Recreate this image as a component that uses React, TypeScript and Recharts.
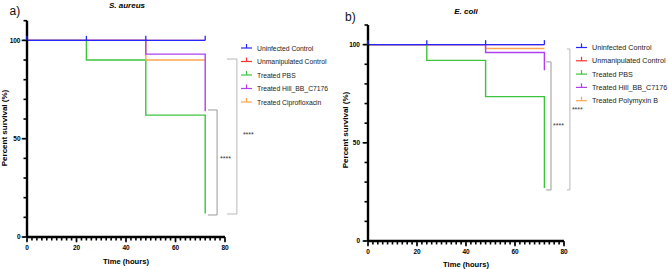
import React from "react";
import { LineChart, Line, XAxis, YAxis, ReferenceLine, ReferenceDot } from "recharts";

const hours = [0, 24, 48, 72];

// S. aureus survival (%)
const aureusUninfected = [100, 100, 100, 100];
const aureusUnmanipulated = [100, 100, 100, 100];
const aureusPBS = [100, 90, 62, 12];
const aureusHill = [100, 100, 93, 64];
const aureusCipro = [100, 100, 90, 90];

// E. coli survival (%)
const coliUninfected = [100, 100, 100, 100];
const coliUnmanipulated = [100, 100, 100, 100];
const coliPBS = [100, 92, 73.5, 27];
const coliHill = [100, 100, 96, 87];
const coliPolymyxin = [100, 100, 98, 98];

const aureusLabels = ["Uninfected Control", "Unmanipulated Control", "Treated PBS", "Treated Hill_BB_C7176", "Treated Ciprofloxacin"];
const coliLabels = ["Uninfected Control", "Unmanipulated Control", "Treated PBS", "Treated Hill_BB_C7176", "Treated Polymyxin B"];

const xTickLabels = [0, 20, 40, 60, 80];
const yTickLabels = [0, 50, 100];
const xMinor = Array.from({ length: 41 }, (_, i) => i * 2);
const yMinor = Array.from({ length: 12 }, (_, i) => i * 10);

const colors = ["#2626ff", "#ff3030", "#3cc43c", "#b040ee", "#ffa54e"];
// blue drawn last so it covers the overlapping controls
const drawOrder = [1, 2, 4, 3, 0];
const FONT = "Arial, 'Liberation Sans', sans-serif";

function buildRows(series: number[][]) {
  return hours.map((h, i) => {
    const row: any = { hour: h };
    series.forEach((s, k) => (row["s" + k] = s[i]));
    return row;
  });
}

// built-in tick lines give the minor length; majors get a longer tick + label
const XTick = (props: any) => {
  const { x, y, payload } = props;
  if (!xTickLabels.includes(payload.value)) return <g />;
  return (
    <g>
      <line x1={x} x2={x} y1={y - 1} y2={y + 1.8} stroke="#000" strokeWidth={1.6} />
      <text x={x} y={y + 9} textAnchor="middle" fontSize={6.5} fontWeight="bold" fontFamily={FONT} fill="#000">
        {payload.value}
      </text>
    </g>
  );
};

const makeYTick = (gap: number) => (props: any) => {
  const { x, y, payload } = props;
  if (!yTickLabels.includes(payload.value)) return <g />;
  return (
    <g>
      <line x1={x + 1} x2={x - 1.8} y1={y} y2={y} stroke="#000" strokeWidth={1.6} />
      <text x={x - gap + 3.5} y={y + 2.4} textAnchor="end" fontSize={6.5} fontWeight="bold" fontFamily={FONT} fill="#000">
        {payload.value}
      </text>
    </g>
  );
};

const censorDot = (color: string) => (p: any) => (
  <line key={"c" + p.index} x1={p.cx} x2={p.cx} y1={p.cy} y2={p.cy - 4.5} stroke={color} strokeWidth={1.3} />
);

function Panel({ left, width, margin, series, labels, brackets, gap, legend, text }: any) {
  const rows = buildRows(series);
  const YTick = makeYTick(gap);
  return (
    <div style={{ position: "absolute", left, top: 0, width, height: 269 }}>
      <LineChart width={width} height={269} data={rows} margin={margin}>
        <XAxis
          dataKey="hour"
          type="number"
          domain={[0, 80]}
          ticks={xMinor}
          interval={0}
          tickSize={3.5}
          tickMargin={0}
          height={20}
          stroke="#000"
          tickLine={{ stroke: "#000", strokeWidth: 1.6 }}
          axisLine={{ stroke: "#000", strokeWidth: 2.4 }}
          tick={(p: any) => <XTick {...p} />}
        />
        <YAxis
          type="number"
          domain={[0, 110]}
          ticks={yMinor}
          interval={0}
          tickSize={3.5}
          tickMargin={0}
          width={20}
          stroke="#000"
          tickLine={{ stroke: "#000", strokeWidth: 1.6 }}
          axisLine={{ stroke: "#000", strokeWidth: 2.4 }}
          tick={(p: any) => <YTick {...p} />}
        />
        {brackets.map((b: any, i: number) => [
          <ReferenceLine key={"t" + i} segment={[{ x: b.x1, y: b.top }, { x: b.x2, y: b.top }]} stroke={b.color} strokeWidth={1} ifOverflow="visible" />,
          <ReferenceLine key={"v" + i} segment={[{ x: b.x2, y: b.top }, { x: b.x2, y: b.bottom }]} stroke={b.color} strokeWidth={1} ifOverflow="visible" />,
          <ReferenceLine key={"b" + i} segment={[{ x: b.x1, y: b.bottom }, { x: b.x2, y: b.bottom }]} stroke={b.color} strokeWidth={1} ifOverflow="visible" />,
          <ReferenceDot
            key={"l" + i}
            x={b.x2}
            y={b.labelY}
            r={0}
            fill="none"
            stroke="none"
            ifOverflow="visible"
            label={{ value: "****", position: "right", offset: b.offset, fontSize: 7, fill: "#333", fontFamily: FONT }}
          />,
        ])}
        {drawOrder.map((k) => (
          <Line
            key={k}
            dataKey={"s" + k}
            type="stepAfter"
            stroke={colors[k]}
            strokeWidth={1.4}
            dot={k === 0 ? censorDot(colors[k]) : false}
            activeDot={false}
            isAnimationActive={false}
          />
        ))}
      </LineChart>
      <svg width={width} height={269} style={{ position: "absolute", left: 0, top: 0, pointerEvents: "none" }} fontFamily={FONT}>
        {labels.map((name: string, i: number) => {
          const y = legend.y0 + i * legend.step;
          return (
            <g key={name}>
              <line x1={legend.x} x2={legend.x + 11} y1={y} y2={y} stroke={colors[i]} strokeWidth={1.2} />
              <line x1={legend.x + 5.5} x2={legend.x + 5.5} y1={y} y2={y - 4} stroke={colors[i]} strokeWidth={1.2} />
              <text x={legend.x + 16} y={y + 2.5} fontSize={legend.size} fill="#222">
                {name}
              </text>
            </g>
          );
        })}
        <text x={text.letterX} y={text.letterY} fontSize={12} fill="#111">{text.letter}</text>
        <text x={text.titleX} y={text.titleY} fontSize={8} fontWeight="bold" fontStyle="italic" textAnchor="middle">
          {text.title}
        </text>
        <text
          x={text.ylabX}
          y={text.ylabY}
          fontSize={8}
          fontWeight="bold"
          textAnchor="middle"
          transform={`rotate(-90 ${text.ylabX} ${text.ylabY})`}
        >
          Percent survival (%)
        </text>
        <text x={text.xlabX} y={text.xlabY} fontSize={7.6} fontWeight="bold" textAnchor="middle">
          Time (hours)
        </text>
      </svg>
    </div>
  );
}

const aureusBrackets = [
  { x1: 73.1, x2: 76.8, top: 64.6, bottom: 11.2, labelY: 40, offset: 3, color: "#999" },
  { x1: 80.8, x2: 84.8, top: 90.5, bottom: 11.7, labelY: 52, offset: 6, color: "#b8b8b8" },
];
const coliBrackets = [
  { x1: 72.7, x2: 74.7, top: 91.2, bottom: 26, labelY: 59, offset: 2, color: "#999" },
  { x1: 81.2, x2: 82.4, top: 97.8, bottom: 26, labelY: 67.2, offset: 2, color: "#b8b8b8" },
];

export default function App() {
  return (
    <div style={{ position: "absolute", left: 0, top: 0, width: 669, height: 269, background: "#fff", overflow: "hidden" }}>
      <Panel
        left={0}
        width={335}
        margin={{ top: 20.7, right: 110, bottom: 12, left: 7 }}
        series={[aureusUninfected, aureusUnmanipulated, aureusPBS, aureusHill, aureusCipro]}
        labels={aureusLabels}
        brackets={aureusBrackets}
        gap={6.5}
        legend={{ x: 241, y0: 48, step: 13.5, size: 6.8 }}
        text={{ letter: "a)", letterX: 9.5, letterY: 15, title: "S. aureus", titleX: 127, titleY: 8, ylabX: 6.5, ylabY: 128, xlabX: 126, xlabY: 264 }}
      />
      <Panel
        left={335}
        width={334}
        margin={{ top: 25, right: 105, bottom: 8, left: 13 }}
        series={[coliUninfected, coliUnmanipulated, coliPBS, coliHill, coliPolymyxin]}
        labels={coliLabels}
        brackets={coliBrackets}
        gap={8}
        legend={{ x: 241, y0: 47.5, step: 13.3, size: 7.2 }}
        text={{ letter: "b)", letterX: 10, letterY: 20.5, title: "E. coli", titleX: 131, titleY: 14, ylabX: 13, ylabY: 130, xlabX: 131, xlabY: 267 }}
      />
    </div>
  );
}
